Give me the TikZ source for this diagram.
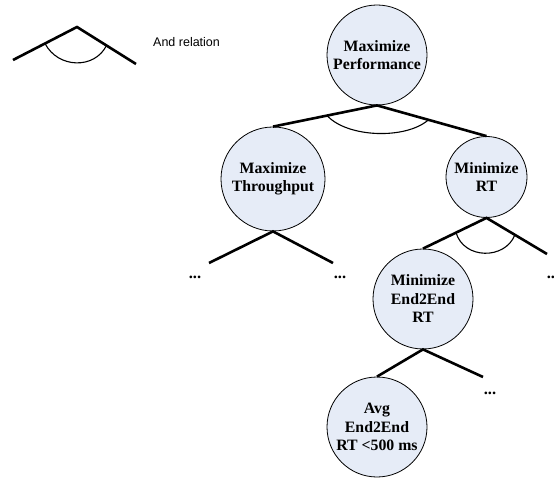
\documentclass[tikz,border=0pt]{standalone}
\usepackage{fontspec}
\setmainfont{Liberation Serif}
\newfontfamily\lsans{Liberation Sans}
\usetikzlibrary{calc}
\definecolor{goalfill}{RGB}{230,236,247}
\tikzset{
  goal/.style={circle, draw=black, line width=0.8pt, fill=goalfill, inner sep=0pt,
    align=center, font=\fontsize{15.8}{18.5}\selectfont\bfseries},
  refine/.style={line width=2.6pt},
  andarc/.style={line width=1.1pt},
  more/.style={font=\fontsize{16.5}{18}\selectfont\bfseries, inner sep=0pt},
}
\begin{document}
\begin{tikzpicture}[x=1pt,y=-1pt]
\useasboundingbox (0,0) rectangle (554,478);
% legend
\coordinate (l1) at (13,60);
\coordinate (l2) at (77,27);
\coordinate (l3) at (136,64);
\draw[refine] (l1) -- (l2) -- (l3);
\coordinate (la) at ($(l2)!0.5!(l1)$);
\coordinate (lb) at ($(l2)!0.5!(l3)$);
\draw[andarc] (la) .. controls +(13,25) and +(-12,24) .. (lb);
\node[anchor=west, font=\lsans\fontsize{12.5}{14}\selectfont, inner sep=0pt] (leg) at (153,42) {And relation};
% goals
\node[goal, minimum size=100pt] (root) at (377,55) {Maximize\\Performance};
\node[goal, minimum size=104pt] (mt) at (273,179) {Maximize\\Throughput};
\node[goal, minimum size=81pt] (mrt) at (486.5,177) {Minimize\\RT};
\node[goal, minimum size=100pt] (e2e) at (423,299) {Minimize\\End2End\\RT};
\node[goal, minimum size=100pt] (avg) at (377,427) {Avg\\End2End\\RT {<}500 ms};
% root refinement
\draw[refine] (mt.north) -- (root.south) -- (mrt.north);
\coordinate (ra) at ($(root.south)!0.48!(mt.north)$);
\coordinate (rb) at ($(root.south)!0.47!(mrt.north)$);
\draw[andarc] (ra) .. controls +(20,22) and +(-23,20) .. (rb);
% throughput refinement
\coordinate (t1) at (209,263);
\coordinate (t2) at (333,263);
\draw[refine] (t1) -- (mt.south) -- (t2);
\node[more] (d1) at (195,277) {...};
\node[more] (d2) at (340,277) {...};
% RT refinement
\coordinate (r2) at (547,254);
\draw[refine] (e2e.north) -- (mrt.south) -- (r2);
\coordinate (rc) at ($(mrt.south)!0.48!(e2e.north)$);
\coordinate (rd) at ($(mrt.south)!0.47!(r2)$);
\draw[andarc] (rc) .. controls +(8,27) and +(-10,25) .. (rd);
\node[more] (d3) at (553,277) {...};
% end2end refinement
\coordinate (e2) at (483,377);
\draw[refine] (avg.north) -- (e2e.south) -- (e2);
\node[more] (d4) at (490,393) {...};
\end{tikzpicture}
\end{document}
